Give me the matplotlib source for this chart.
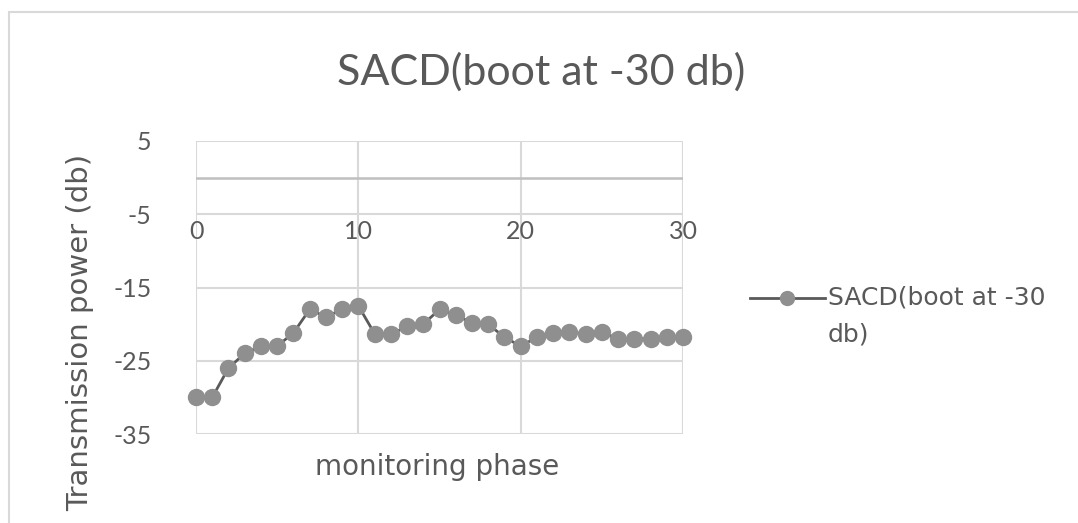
import matplotlib
matplotlib.use('Agg')

import numpy as np
import matplotlib.pyplot as plt
from matplotlib.patches import Rectangle
from matplotlib.lines import Line2D

# =========================
# Data
# =========================
phase = list(range(0, 31))
power_db = [-30, -30, -26, -24, -23, -23, -21.2, -18, -19, -18, -17.5,
            -21.3, -21.4, -20.3, -20, -18, -18.8, -19.8, -20, -21.8, -23,
            -21.8, -21.2, -21.1, -21.3, -21.1, -22, -22, -22, -21.8, -21.8]
series_name = "SACD(boot at -30\ndb)"
title_text = "SACD(boot at -30 db)"
y_ticks = [5, -5, -15, -25, -35]
x_ticks = [0, 10, 20, 30]

plt.rcParams['font.family'] = ['Lato', 'DejaVu Sans']
wide_font = ['DejaVu Sans']
text_col = '#595959'
grid_col = '#d9d9d9'
line_col = '#5a5a5a'
dot_col = '#8f8f8f'

W, H = 1078, 523
fig = plt.figure(figsize=(W / 100, H / 100), dpi=100)

# outer chart border (clipped on right/bottom like the screenshot)
fig.patches.append(Rectangle((9 / W, -0.1), 1.2, 1 - 12 / H + 0.1,
                             transform=fig.transFigure, fill=False,
                             edgecolor=grid_col, linewidth=1.5))

ax = fig.add_axes([196 / W, 1 - 434 / H, 487 / W, 293 / H])
ax.set_xlim(0, 30)
ax.set_ylim(-35, 5)

for s in ax.spines.values():
    s.set_visible(False)

# gridlines
for y in y_ticks:
    ax.axhline(y, color=grid_col, linewidth=1.5, zorder=0)
for x in x_ticks:
    ax.axvline(x, color=grid_col, linewidth=1.5, zorder=0)
ax.axhline(0, color='#bfbfbf', linewidth=1.8, zorder=0)

ax.plot(phase, power_db, color=line_col, linewidth=2.0,
        marker='o', markersize=11.5, markerfacecolor=dot_col,
        markeredgecolor=dot_col, zorder=3, clip_on=False)

ax.set_yticks(y_ticks)
ax.set_yticklabels([str(v) for v in y_ticks])
ax.tick_params(axis='y', length=0, pad=32, labelsize=18, labelcolor=text_col)

# x labels sit just under the -5 line
ax.spines['bottom'].set_position(('data', -5))
ax.set_xticks(x_ticks)
ax.set_xticklabels([str(v) for v in x_ticks])
ax.tick_params(axis='x', length=0, pad=4, labelsize=18, labelcolor=text_col)

fig.text(437 / W, 1 - 467 / H, "monitoring phase", ha='center', va='center',
         fontsize=20, color=text_col, family=wide_font)
fig.text(80 / W, 1 - 332 / H, "Transmission power (db)", ha='center',
         va='center', rotation=90, fontsize=21, color=text_col,
         family=wide_font)
fig.text(541 / W, 1 - 72 / H, title_text, ha='center', va='center',
         fontsize=31, color=text_col)

# legend entry, handle level with the first text line
fig.add_artist(Line2D([750 / W, 825 / W], [1 - 298 / H, 1 - 298 / H],
                      color=line_col, linewidth=2.0))
fig.add_artist(Line2D([787 / W], [1 - 298 / H], marker='o', markersize=10,
                      markerfacecolor=dot_col, markeredgecolor=dot_col))
fig.text(828 / W, 1 - 286 / H, series_name, ha='left', va='top',
         fontsize=18, color=text_col, family=wide_font, linespacing=1.65)

plt.savefig("out.png", dpi=100)
plt.close()
